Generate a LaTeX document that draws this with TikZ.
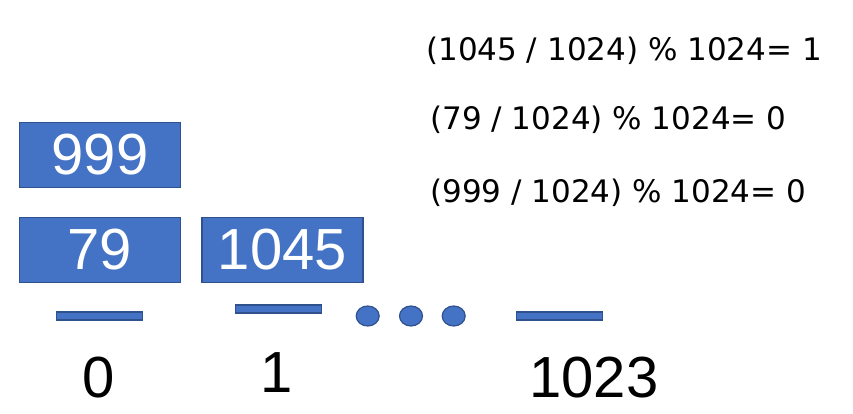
\documentclass[tikz,border=0pt]{standalone}
\usepackage{fontspec}
\setmainfont{Liberation Sans}
\newfontfamily\eqfont{DejaVu Sans}
\definecolor{boxfill}{HTML}{4472C4}
\definecolor{boxline}{HTML}{2F528F}
\begin{document}
\begin{tikzpicture}[x=1pt,y=-1pt,
  valbox/.style={draw=boxline,fill=boxfill,line width=1.5pt,minimum width=161pt,minimum height=65pt,inner sep=0pt,text=white,font=\fontsize{58}{60}\selectfont},
  slot/.style={draw=boxline,fill=boxfill,line width=1.5pt,minimum width=86pt,minimum height=8pt,inner sep=0pt},
  dot/.style={draw=boxline,fill=boxfill,line width=1.2pt,ellipse,minimum width=23pt,minimum height=20pt,inner sep=0pt},
  idx/.style={anchor=base,inner sep=0pt,font=\fontsize{58}{60}\selectfont},
  eq/.style={anchor=base west,inner sep=0pt,font=\eqfont\fontsize{31}{33}\selectfont}]
\useasboundingbox (0,0) rectangle (853,414);
\node[valbox] (b999) at (100,154.8) {999};
\node[valbox] (b79) at (100,249.8) {79};
\node[valbox] (b1045) at (282.3,249.8) {1045};
\node[slot] (s0) at (99.3,315.8) {};
\node[slot] (s1) at (278.3,309.2) {};
\node[slot] (s1023) at (559.3,315.8) {};
\draw[boxline,fill=boxfill,line width=1.2pt] (367.7,316) ellipse [x radius=11.5, y radius=10];
\draw[boxline,fill=boxfill,line width=1.2pt] (411,316) ellipse [x radius=11.5, y radius=10];
\draw[boxline,fill=boxfill,line width=1.2pt] (453.7,316) ellipse [x radius=11.5, y radius=10];
\node[idx] (l0) at (99,397) {0};
\node[idx] (l1) at (277,392) {1};
\node[idx] (l1023) at (594,397) {1023};
\node[eq] (e1) at (426,60.5) {(1045 / 1024) \% 1024= 1};
\node[eq] (e2) at (430,130) {(79 / 1024) \% 1024= 0};
\node[eq] (e3) at (430,202) {(999 / 1024) \% 1024= 0};
\end{tikzpicture}
\end{document}
